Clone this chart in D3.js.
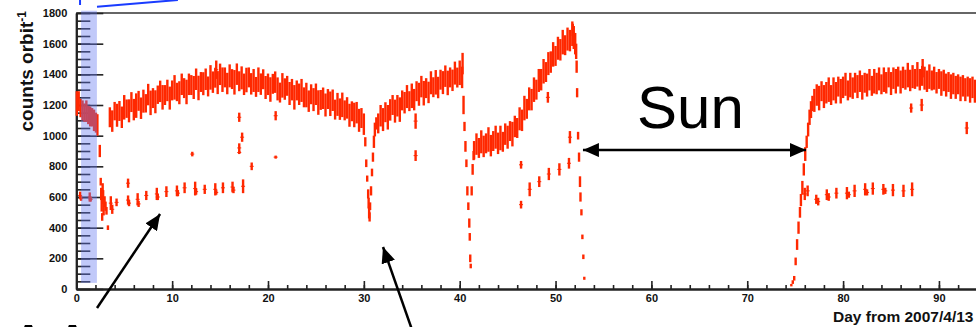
<!DOCTYPE html>
<html>
<head>
<meta charset="utf-8">
<script src="https://cdn.jsdelivr.net/npm/d3@7"></script>
<style>
  body { margin: 0; background: #fff; }
  svg { display: block; font-family: "Liberation Sans", Arial, sans-serif; }
</style>
</head>
<body>
<div id="chart"></div>
<script>
// [day, counts, error] per orbit
const saaMain = [[0.05,1210,80],[0.25,1225,65],[0.45,1180,60],[0.65,1165,65],[0.85,1150,60],[1.05,1160,70],
  [1.25,1135,60],[1.45,1125,65],[1.65,1120,60],[1.85,1100,70],[2.05,1085,65],[2.2,1070,70]];
const saaLow = [[0.4,610,25],[0.5,590,15],[1.4,600,30],[1.5,585,15]];
const exitSAA = [[2.45,900,40],[2.55,700,25],[2.6,620,40],[2.65,550,45],[2.7,470,25],[2.75,660,30],[2.8,600,45],
  [2.85,520,40],[2.95,570,35],[3.05,540,30],[3.15,510,25],[3.3,400,15]];

const mainA = [[3.5,1120,65],[3.75,1095,70],[4,1160,60],[4.25,1133,75],[4.5,1161,65],[4.75,1120,70],[5,1185,80],
  [5.25,1176,60],[5.5,1162,75],[5.75,1219,65],[6,1170,70],[6.25,1196,80],[6.5,1227,65],[6.75,1179,70],[7,1225,75],
  [7.25,1211,60],[7.5,1268,70],[7.75,1214,80],[8,1245,65],[8.25,1221,75],[8.5,1267,60],[8.75,1289,70],[9,1250,80],
  [9.25,1265,65],[9.5,1295,70],[9.75,1245,75],[10,1295,65],[10.25,1315,80],[10.5,1285,60],[10.75,1280,75],
  [11,1335,70],[11.25,1310,65],[11.5,1285,80],[11.75,1335,70],[12,1330,65],[12.25,1314,75],[12.5,1368,70],
  [12.75,1311,80],[13,1350,65],[13.25,1339,75],[13.5,1368,70],[13.75,1321,65],[14,1380,80],[14.25,1349,70],
  [14.5,1378,65],[14.75,1346,75],[15,1400,70],[15.25,1365,80],[15.5,1380,65],[15.75,1340,70],[16,1390,75],
  [16.25,1369,65],[16.5,1348,80],[16.75,1401,70],[17,1355,65],[17.25,1377,75],[17.5,1335,70],[17.75,1363,80],
  [18,1380,65],[18.25,1338,70],[18.5,1360,75],[18.75,1318,65],[19,1365,80],[19.25,1336,70],[19.5,1368,65],
  [19.75,1314,75],[20,1335,70],[20.25,1301,80],[20.5,1338,65],[20.75,1349,70],[21,1305,75],[21.25,1281,65],
  [21.5,1328,80],[21.75,1304,70],[22,1325,65],[22.25,1275,75],[22.5,1300,70],[22.75,1250,80],[23,1295,65],
  [23.25,1270,70],[23.5,1295,75],[23.75,1250,65],[24,1265,80],[24.25,1225,70],[24.5,1270,65],[24.75,1235,75],
  [25,1270,70],[25.25,1216,80],[25.5,1233,65],[25.75,1244,70],[26,1200,75],[26.25,1239,65],[26.5,1208,80],
  [26.75,1231,70],[27,1170,65],[27.25,1204,75],[27.5,1173,70],[27.75,1201,80],[28,1165,65],[28.25,1181,70],
  [28.5,1133,75],[28.75,1159,65],[29,1135,80],[29.25,1150,70],[29.5,1100,75],[29.75,1115,65],[30,1075,70]];
const dipA = [[30.15,960,30],[30.25,820,25],[30.35,720,20],[30.45,620,30],[30.5,560,35],[30.55,500,40],
  [30.6,470,30],[30.65,540,25],[30.75,640,30],[30.85,760,25],[30.95,860,30],[31.05,960,40],[31.15,1040,45],[31.3,1080,40]];

const mainB = [[31.5,1080,65],[31.75,1130,70],[32,1105,75],[32.25,1153,65],[32.5,1120,80],[32.75,1168,70],
  [33,1200,65],[33.25,1160,75],[33.5,1195,70],[33.75,1170,80],[34,1230,65],[34.25,1215,70],[34.5,1255,75],
  [34.75,1225,65],[35,1260,80],[35.25,1235,70],[35.5,1290,65],[35.75,1270,75],[36,1320,70],[36.25,1277,80],
  [36.5,1310,65],[36.75,1282,70],[37,1345,75],[37.25,1316,65],[37.5,1348,80],[37.75,1314,70],[38,1365,65],
  [38.25,1346,75],[38.5,1388,70],[38.75,1344,80],[39,1380,65],[39.25,1361,70],[39.5,1408,75],[39.75,1379,65],
  [40,1410,80],[40.25,1380,70],[40.3,1470,70]];
const dropB = [[40.4,1200,60],[40.5,1060,30],[40.6,930,35],[40.7,820,25],[40.8,640,30],[40.9,540,25],
  [41,430,30],[41.05,340,25],[41.1,200,25],[41.15,150,15],[41.25,640,30],[41.35,780,35],[41.45,870,30]];

const mainC = [[41.5,905,60],[41.75,945,70],[42,920,65],[42.25,960,75],[42.5,930,70],[42.75,950,65],[43,975,80],
  [43.25,935,70],[43.5,965,65],[43.75,990,75],[44,950,70],[44.25,985,80],[44.5,960,65],[44.75,1010,70],[45,990,75],
  [45.25,1030,65],[45.5,1010,80],[45.75,1060,70],[46,1050,65],[46.25,1110,75],[46.5,1100,70],[46.75,1180,80],
  [47,1175,65],[47.25,1240,75],[47.5,1235,70],[47.75,1300,80],[48,1300,65],[48.25,1360,75],[48.5,1365,70],
  [48.75,1420,80],[49,1415,65],[49.25,1470,75],[49.5,1480,70],[49.75,1530,80],[50,1520,65],[50.25,1570,75],
  [50.5,1560,70],[50.75,1610,80],[51,1590,65],[51.25,1630,75],[51.5,1620,70],[51.75,1665,80],[51.8,1690,40],
  [51.9,1640,75],[52.05,1600,70]];
const dropC = [[52.15,1550,50],[52.2,1450,40],[52.25,1280,30],[52.35,1000,25],[52.45,860,30],[52.55,700,35],
  [52.6,600,30],[52.7,500,20],[52.8,340,15],[52.9,210,15],[53,70,10]];

const riseD = [[74.6,25,8],[74.75,45,12],[74.9,70,15],[75.05,180,25],[75.2,290,35],[75.35,400,40],[75.5,500,35],
  [75.6,580,40],[75.75,660,45],[75.9,780,40],[76.05,880,45],[76.2,960,40],[76.35,1040,45],[76.5,1120,50],
  [76.65,1170,55],[76.8,1210,50]];
const mainD = [[77,1230,75],[77.25,1265,70],[77.5,1245,80],[77.75,1290,65],[78,1255,75],[78.25,1280,70],
  [78.5,1300,80],[78.75,1265,65],[79,1305,75],[79.25,1280,70],[79.5,1320,65],[79.75,1290,80],[80,1315,70],
  [80.25,1335,75],[80.5,1295,65],[80.75,1330,80],[81,1310,70],[81.25,1345,65],[81.5,1320,75],[81.75,1355,70],
  [82,1315,80],[82.25,1345,65],[82.5,1330,75],[82.75,1365,70],[83,1325,65],[83.25,1355,80],[83.5,1340,70],
  [83.75,1370,75],[84,1335,65],[84.25,1365,80],[84.5,1345,70],[84.75,1380,65],[85,1340,75],[85.25,1375,70],
  [85.5,1355,80],[85.75,1385,65],[86,1350,75],[86.25,1380,70],[86.5,1365,65],[86.75,1395,80],[87,1360,70],
  [87.25,1385,75],[87.5,1370,65],[87.75,1400,80],[88,1365,70],[88.25,1390,65],[88.3,1440,60],[88.5,1375,75],
  [88.75,1355,70],[89,1385,80],[89.25,1360,65],[89.5,1375,75],[89.75,1345,70],[90,1370,65],[90.25,1340,80],
  [90.5,1360,70],[90.75,1330,75],[91,1350,65],[91.25,1320,80],[91.5,1340,70],[91.75,1315,75],[92,1335,65],
  [92.25,1305,80],[92.5,1325,70],[92.75,1300,75],[93,1320,65],[93.25,1295,80],[93.5,1315,70],[93.75,1290,75],
  [94,1305,65]];

// lower branch (orbits crossing the SAA edge)
const lowA = [[3.6,560,45],[3.75,520,30],[4.2,565,25],[5.4,580,30],[5.5,560,20],[6.4,585,40],[6.5,555,20],
  [7.3,610,30],[8.4,620,40],[8.5,600,20],[9.4,635,35],[10.5,640,35],[10.6,625,20],[11.3,660,35],[12.4,655,45],
  [12.5,635,20],[13.4,650,30],[14.5,650,40],[14.6,630,15],[15.3,660,35],[16.3,665,35],[16.4,645,20],[17.4,670,45]];
const lowC = [[46.4,550,25],[46.4,810,25],[47.3,650,45],[48.3,700,35],[49.3,750,40],[50.4,780,40],
  [51.4,820,35],[51.5,990,40]];
const lowD = [[76.0,620,40],[76.3,640,35],[77.2,585,30],[77.4,570,25],[78.3,615,35],[78.5,600,25],[79.3,625,35],
  [80.4,625,40],[80.6,615,20],[81.2,640,40],[82.3,650,40],[82.5,630,20],[83.1,655,40],[84.2,650,35],
  [84.4,640,20],[85.2,645,40],[86.3,640,40],[87.2,650,45]];
const outliers = [[5.4,690,30],[12.1,880,15],[14.6,1430,60],[17.0,890,10],[17.0,1120,30],[17.3,990,30],
  [17.0,920,30],[18.3,800,25],[20.8,1130,30],[20.8,860,10],[35.4,1095,50],[35.4,870,35],[49.2,1250,35],
  [87.1,1180,30],[88.2,1200,40],[92.9,1050,40]];

const yTicks = [0, 200, 400, 600, 800, 1000, 1200, 1400, 1600, 1800];
const xTicks = [0, 10, 20, 30, 40, 50, 60, 70, 80, 90, 100];
const saaBand = [0.5, 2.15];

const width = 976, height = 327;
const x = d3.scaleLinear().domain([0, 100]).range([76.3, 1034.8]);
const y = d3.scaleLinear().domain([0, 1800]).range([289, 13]);

const svg = d3.select('#chart').append('svg')
    .attr('width', width)
    .attr('height', height);

// frame top
svg.append('line')
    .attr('x1', x(0)).attr('x2', width + 10)
    .attr('y1', y(1800)).attr('y2', y(1800))
    .attr('stroke', '#333').attr('stroke-width', 1.5);

// Axes (ROOT style: ticks inside the frame)
const yMinor = svg.append('g')
    .attr('transform', `translate(${x(0)},0)`)
    .call(d3.axisLeft(y).tickValues(d3.range(0, 1801, 50)).tickSize(-14).tickSizeOuter(0).tickFormat(''));
const yMajor = svg.append('g')
    .attr('transform', `translate(${x(0)},0)`)
    .call(d3.axisLeft(y).tickValues(yTicks).tickSize(-27).tickSizeOuter(0).tickPadding(9).tickFormat(d3.format('d')));
const xMinor = svg.append('g')
    .attr('transform', `translate(0,${y(0)})`)
    .call(d3.axisBottom(x).tickValues(d3.range(0, 101, 2)).tickSize(-4).tickSizeOuter(0).tickFormat(''));
const xMajor = svg.append('g')
    .attr('transform', `translate(0,${y(0)})`)
    .call(d3.axisBottom(x).tickValues(xTicks).tickSize(-8).tickSizeOuter(0).tickPadding(5).tickFormat(d3.format('d')));

[yMinor, yMajor, xMinor, xMajor].forEach(g => {
    g.selectAll('path.domain').attr('stroke', '#222').attr('stroke-width', 2);
    g.selectAll('.tick line').attr('stroke', '#222').attr('stroke-width', 1.6);
    g.selectAll('.tick text')
        .attr('fill', '#111')
        .style('font-size', '11px')
        .style('font-weight', 'bold')
        .style('font-family', '"Liberation Sans", Arial, sans-serif');
});

// Axis titles
const yTitle = svg.append('text')
    .attr('transform', `translate(33,${y(1800) - 2}) rotate(-90)`)
    .attr('text-anchor', 'end')
    .style('font-size', '19px')
    .style('font-weight', 'bold')
    .attr('fill', '#111');
yTitle.append('tspan').text('counts orbit');
yTitle.append('tspan').attr('dy', -7).style('font-size', '12px').text('-1');

svg.append('text')
    .attr('x', 833)
    .attr('y', 322)
    .style('font-size', '15.5px')
    .style('font-weight', 'bold')
    .attr('fill', '#111')
    .text('Day from 2007/4/13');

// Data: vertical error bars
const bandPoints = [].concat(saaMain, exitSAA, mainA, dipA, mainB, dropB, mainC, dropC, riseD, mainD);
const sparsePoints = [].concat(saaLow, lowA, lowC, lowD, outliers);

const marks = svg.append('g').attr('stroke', '#ff2800');
marks.selectAll('.err-bar')
    .data(bandPoints.concat(sparsePoints))
    .enter()
    .append('line')
    .attr('class', 'err-bar')
    .attr('x1', d => x(d[0])).attr('x2', d => x(d[0]))
    .attr('y1', d => y(d[1] - d[2])).attr('y2', d => y(d[1] + d[2]))
    .attr('stroke-width', 2.4);
marks.selectAll('.err-x')
    .data(sparsePoints)
    .enter()
    .append('line')
    .attr('class', 'err-x')
    .attr('x1', d => x(d[0]) - 2).attr('x2', d => x(d[0]) + 2)
    .attr('y1', d => y(d[1])).attr('y2', d => y(d[1]))
    .attr('stroke-width', 1);

// SAA shaded band
svg.append('rect')
    .attr('x', x(saaBand[0]))
    .attr('y', y(1815))
    .attr('width', x(saaBand[1]) - x(saaBand[0]))
    .attr('height', y(40) - y(1815))
    .attr('fill', 'rgb(100,120,240)')
    .attr('fill-opacity', 0.4);

// Annotations
svg.append('defs').append('marker')
    .attr('id', 'head')
    .attr('viewBox', '0 0 16 14')
    .attr('refX', 16).attr('refY', 7)
    .attr('markerWidth', 16).attr('markerHeight', 14)
    .attr('markerUnits', 'userSpaceOnUse')
    .attr('orient', 'auto-start-reverse')
    .append('path')
    .attr('d', 'M0,0 L16,7 L0,14 Z')
    .attr('fill', '#000');

function arrow(d0, c0, d1, c1, both) {
    const l = svg.append('line')
        .attr('x1', x(d0)).attr('y1', y(c0))
        .attr('x2', x(d1)).attr('y2', y(c1))
        .attr('stroke', '#000').attr('stroke-width', 2.5)
        .attr('marker-end', 'url(#head)');
    if (both) l.attr('marker-start', 'url(#head)');
}
arrow(2.16, -124, 8.74, 489);
arrow(35.4, -333, 32.0, 274);
arrow(52.86, 906, 76.13, 906, true);

svg.append('text')
    .attr('x', x(58.5)).attr('y', y(1050))
    .style('font-size', '60px')
    .attr('fill', '#000')
    .text('Sun');

// big label below the plot, only its top shows in the picture
svg.append('text')
    .attr('x', x(-11.9)).attr('y', y(-538))
    .style('font-size', '66px')
    .attr('fill', '#000')
    .text('SAA');

// cut-off callout lines at the top
const blue = svg.append('g').attr('stroke', '#1a3cff').attr('stroke-width', 2);
blue.append('line').attr('x1', x(0.39)).attr('x2', x(0.39)).attr('y1', y(1895)).attr('y2', y(1852));
blue.append('line').attr('x1', x(2.16)).attr('x2', x(10.6)).attr('y1', y(1840)).attr('y2', y(1885));
</script>
</body>
</html>
